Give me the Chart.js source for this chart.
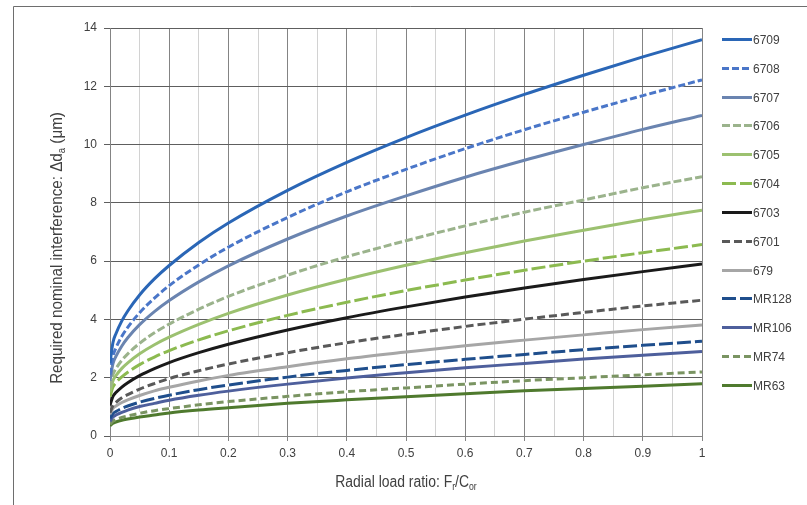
<!DOCTYPE html>
<html>
<head>
<meta charset="utf-8">
<title>Required nominal interference vs radial load ratio</title>
<script src="https://cdn.jsdelivr.net/npm/chart.js@4.4.1/dist/chart.umd.min.js"></script>
<style>
  html, body { margin: 0; padding: 0; background: #fff; }
  #wrap { position: relative; width: 807px; height: 505px; }
</style>
</head>
<body>
<div id="wrap"><canvas id="chart" width="807" height="505"></canvas></div>
<script>
// radial load ratio Fr/Cor sample points
const X_VALUES = [0, 0.005, 0.01, 0.02, 0.03, 0.05, 0.075, 0.1, 0.15, 0.2, 0.3, 0.4, 0.5, 0.6, 0.7, 0.8, 0.9, 1];
const X_TICK_LABELS = ['0', '0.1', '0.2', '0.3', '0.4', '0.5', '0.6', '0.7', '0.8', '0.9', '1'];
const Y_TICK_LABELS = ['0', '2', '4', '6', '8', '10', '12', '14'];

// required interference (um) per bearing, same order as X_VALUES
const d6709 = [2.50, 3.21, 3.51, 3.95, 4.29, 4.84, 5.39, 5.85, 6.64, 7.31, 8.43, 9.39, 10.24, 11.01, 11.72, 12.38, 13.01, 13.60];
const d6708 = [2.10, 2.74, 3.02, 3.42, 3.73, 4.23, 4.73, 5.16, 5.87, 6.48, 7.50, 8.38, 9.15, 9.86, 10.51, 11.11, 11.68, 12.22];
const d6707 = [1.90, 2.48, 2.73, 3.09, 3.37, 3.82, 4.27, 4.65, 5.29, 5.84, 6.76, 7.55, 8.24, 8.88, 9.46, 10.00, 10.52, 11.00];
const d6706 = [1.65, 2.11, 2.31, 2.60, 2.82, 3.18, 3.54, 3.84, 4.35, 4.79, 5.52, 6.15, 6.70, 7.21, 7.68, 8.10, 8.52, 8.90];
const d6705 = [1.50, 1.90, 2.07, 2.32, 2.51, 2.82, 3.13, 3.39, 3.83, 4.21, 4.84, 5.38, 5.86, 6.29, 6.69, 7.06, 7.42, 7.75];
const d6704 = [1.35, 1.68, 1.83, 2.03, 2.19, 2.45, 2.71, 2.93, 3.30, 3.61, 4.14, 4.59, 4.99, 5.35, 5.69, 6.00, 6.29, 6.57];
const d6703 = [1.05, 1.36, 1.49, 1.68, 1.83, 2.07, 2.31, 2.52, 2.86, 3.15, 3.64, 4.06, 4.43, 4.77, 5.08, 5.37, 5.64, 5.90];
const d6701 = [0.80, 1.05, 1.15, 1.31, 1.42, 1.61, 1.80, 1.97, 2.24, 2.47, 2.86, 3.20, 3.49, 3.76, 4.01, 4.24, 4.46, 4.66];
const d679  = [0.75, 0.95, 1.03, 1.15, 1.24, 1.39, 1.55, 1.67, 1.89, 2.08, 2.38, 2.65, 2.88, 3.10, 3.29, 3.47, 3.65, 3.81];
const dMR128 = [0.60, 0.77, 0.84, 0.95, 1.03, 1.16, 1.29, 1.40, 1.59, 1.75, 2.02, 2.25, 2.45, 2.63, 2.80, 2.96, 3.11, 3.25];
const dMR106 = [0.50, 0.65, 0.72, 0.81, 0.89, 1.01, 1.12, 1.23, 1.40, 1.54, 1.78, 1.99, 2.17, 2.34, 2.49, 2.64, 2.77, 2.90];
const dMR74  = [0.40, 0.51, 0.56, 0.64, 0.69, 0.78, 0.87, 0.94, 1.07, 1.18, 1.36, 1.52, 1.65, 1.78, 1.90, 2.00, 2.10, 2.20];
const dMR63  = [0.35, 0.44, 0.48, 0.54, 0.58, 0.65, 0.72, 0.79, 0.89, 0.97, 1.12, 1.24, 1.35, 1.45, 1.55, 1.63, 1.71, 1.79];

const SERIES = [
  { label: '6709',  values: d6709,  color: '#2a66b6', dash: [] },
  { label: '6708',  values: d6708,  color: '#4a76c8', dash: [7, 3] },
  { label: '6707',  values: d6707,  color: '#6a84b0', dash: [] },
  { label: '6706',  values: d6706,  color: '#9bb38c', dash: [8, 3] },
  { label: '6705',  values: d6705,  color: '#9cc170', dash: [] },
  { label: '6704',  values: d6704,  color: '#8cba50', dash: [14, 4] },
  { label: '6703',  values: d6703,  color: '#1a1a1a', dash: [] },
  { label: '6701',  values: d6701,  color: '#595959', dash: [8, 4] },
  { label: '679',   values: d679,   color: '#a6a6a6', dash: [] },
  { label: 'MR128', values: dMR128, color: '#1f4e8c', dash: [14, 4] },
  { label: 'MR106', values: dMR106, color: '#4e5f9c', dash: [] },
  { label: 'MR74',  values: dMR74,  color: '#7a9462', dash: [7, 4] },
  { label: 'MR63',  values: dMR63,  color: '#4f7a2e', dash: [] }
];

const PLOT = { left: 110, right: 702, top: 28, bottom: 436 };
const FONT = "'Liberation Sans', Arial, sans-serif";
const TEXT = '#404040';

function points(values) {
  return X_VALUES.map((x, i) => ({ x, y: values[i] }));
}

function isMajor(v) {
  return Math.abs(v * 10 - Math.round(v * 10)) < 1e-6;
}

const datasets = [];
SERIES.forEach(s => {
  datasets.push({
    label: s.label,
    data: points(s.values),
    borderColor: s.color,
    borderWidth: 3,
    borderDash: s.dash,
    pointRadius: 0,
    cubicInterpolationMode: 'monotone',
    order: 0
  });
});
// white solid line under each dashed series so the gaps read white
SERIES.filter(s => s.dash.length).forEach(s => {
  datasets.push({
    label: '_under_' + s.label,
    data: points(s.values),
    borderColor: '#ffffff',
    borderWidth: 3,
    pointRadius: 0,
    cubicInterpolationMode: 'monotone',
    order: 1
  });
});

// text in pieces (some subscripted), centred on cx and squeezed horizontally by sx
function drawParts(ctx, parts, cx, baseline, size, subSize, sx) {
  const fontOf = sub => (sub ? subSize : size) + 'px ' + FONT;
  let total = 0;
  parts.forEach(([t, sub]) => { ctx.font = fontOf(sub); total += ctx.measureText(t).width; });
  ctx.save();
  ctx.translate(cx, baseline);
  ctx.scale(sx, 1);
  let x = -total / 2;
  ctx.textAlign = 'left';
  parts.forEach(([t, sub]) => {
    ctx.font = fontOf(sub);
    ctx.fillText(t, x, sub ? 3 : 0);
    x += ctx.measureText(t).width;
  });
  ctx.restore();
}

// frame, axis titles and the legend column
const decorations = {
  id: 'decorations',
  beforeDraw(chart) {
    const ctx = chart.ctx;
    ctx.save();
    ctx.fillStyle = '#fff';
    ctx.fillRect(0, 0, chart.width, chart.height);
    ctx.strokeStyle = '#6e6e6e';
    ctx.lineWidth = 1;
    ctx.beginPath();
    ctx.moveTo(13.5, chart.height);
    ctx.lineTo(13.5, 6.5);
    ctx.lineTo(chart.width, 6.5);
    ctx.stroke();
    ctx.restore();
  },
  afterDraw(chart) {
    const ctx = chart.ctx;
    ctx.save();
    ctx.fillStyle = TEXT;
    ctx.textBaseline = 'alphabetic';

    drawParts(ctx, [
      ['Radial load ratio: F', false], ['r', true], ['/C', false], ['or', true]
    ], 406, 487, 16, 10, 0.87);

    ctx.translate(62, 248);
    ctx.rotate(-Math.PI / 2);
    drawParts(ctx, [
      ['Required nominal interference: \u0394d', false], ['a', true], [' (\u03bcm)', false]
    ], 0, 0, 16, 10, 0.95);
    ctx.restore();

    // legend
    ctx.save();
    ctx.font = '12px ' + FONT;
    ctx.textBaseline = 'middle';
    SERIES.forEach((s, i) => {
      const y = Math.round(39 + i * 28.83) + 0.5;
      ctx.lineWidth = 3;
      if (s.dash.length) {
        ctx.setLineDash([]);
        ctx.strokeStyle = '#fff';
        ctx.beginPath(); ctx.moveTo(722, y); ctx.lineTo(752, y); ctx.stroke();
      }
      ctx.setLineDash(s.dash);
      ctx.strokeStyle = s.color;
      ctx.beginPath(); ctx.moveTo(722, y); ctx.lineTo(752, y); ctx.stroke();
      ctx.setLineDash([]);
      ctx.fillStyle = TEXT;
      ctx.fillText(s.label, 753, y + 1);
    });
    ctx.restore();
  }
};

new Chart(document.getElementById('chart'), {
  type: 'line',
  data: { datasets },
  options: {
    responsive: false,
    animation: false,
    events: [],
    layout: { padding: { left: 0, top: PLOT.top, right: 807 - PLOT.right, bottom: 0 } },
    plugins: {
      legend: { display: false },
      tooltip: { enabled: false }
    },
    scales: {
      x: {
        type: 'linear',
        min: 0,
        max: 1,
        afterBuildTicks: scale => {
          scale.ticks = [];
          for (let i = 0; i <= 20; i++) scale.ticks.push({ value: i / 20 });
        },
        afterFit: scale => { scale.height = 505 - PLOT.bottom; },
        grid: {
          color: c => (isMajor(c.tick.value) ? '#848484' : '#d2d2d2'),
          tickColor: c => (isMajor(c.tick.value) ? '#848484' : 'rgba(0,0,0,0)'),
          tickLength: 5,
          lineWidth: 1
        },
        border: { color: '#848484' },
        ticks: {
          autoSkip: false,
          maxRotation: 0,
          padding: 5,
          color: TEXT,
          font: { family: FONT, size: 12 },
          callback: (v, i) => (i % 2 === 0 ? X_TICK_LABELS[i / 2] : '')
        }
      },
      y: {
        type: 'linear',
        min: 0,
        max: 14,
        afterBuildTicks: scale => {
          scale.ticks = Y_TICK_LABELS.map(t => ({ value: Number(t) }));
        },
        afterFit: scale => { scale.width = PLOT.left; },
        grid: {
          color: '#5e5e5e',
          tickColor: '#5e5e5e',
          tickLength: 6,
          lineWidth: 1
        },
        border: { color: '#848484' },
        ticks: {
          padding: 7,
          color: TEXT,
          font: { family: FONT, size: 12 },
          callback: (v, i) => Y_TICK_LABELS[i]
        }
      }
    }
  },
  plugins: [decorations]
});
</script>
</body>
</html>
